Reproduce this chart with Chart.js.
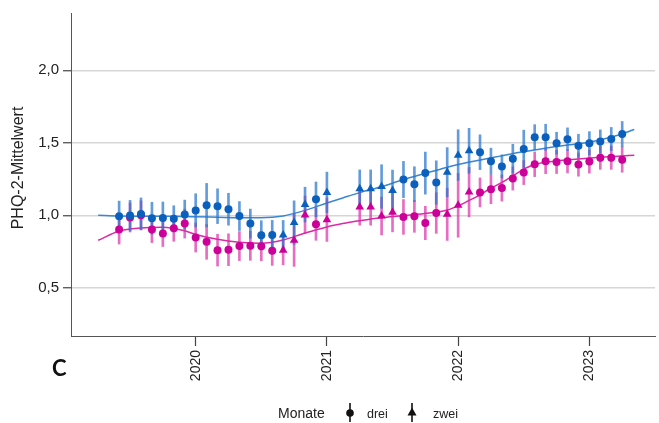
<!DOCTYPE html>
<html>
<head>
<meta charset="utf-8">
<script src="https://cdn.jsdelivr.net/npm/chart.js@4.4.1/dist/chart.umd.min.js"></script>
<style>
  html, body { margin: 0; padding: 0; background: #ffffff; }
  #wrap { width: 659px; height: 423px; }
</style>
</head>
<body>
<div id="wrap"><canvas id="c" width="659" height="423"></canvas></div>
<script>
// Monthly survey waves (Feb/Mar 2021 have no data)
const months = [
  '2019-06','2019-07','2019-08','2019-09','2019-10','2019-11','2019-12',
  '2020-01','2020-02','2020-03','2020-04','2020-05','2020-06','2020-07','2020-08','2020-09','2020-10','2020-11','2020-12',
  '2021-01','2021-04','2021-05','2021-06','2021-07','2021-08','2021-09','2021-10','2021-11','2021-12',
  '2022-01','2022-02','2022-03','2022-04','2022-05','2022-06','2022-07','2022-08','2022-09','2022-10','2022-11','2022-12',
  '2023-01','2023-02','2023-03','2023-04'
];
// Interval between waves ("Monate")
const monate = [
  'drei','drei','drei','drei','drei','drei','drei',
  'drei','drei','drei','drei','drei','drei','drei','drei','zwei','zwei','zwei','drei',
  'zwei','zwei','zwei','zwei','zwei','drei','drei','drei','drei','zwei',
  'zwei','zwei','drei','drei','drei','drei','drei','drei','drei','drei','drei','drei',
  'drei','drei','drei','drei'
];
// Blue group: mean and half-width of the confidence interval
const blueMean = [
  0.993, 0.998, 1.010, 0.980, 0.982, 0.976, 1.005,
  1.034, 1.070, 1.063, 1.042, 0.995, 0.943, 0.863, 0.865, 0.865, 0.950, 1.074, 1.110,
  1.158, 1.183, 1.183, 1.199, 1.172, 1.247, 1.215, 1.291, 1.226, 1.297,
  1.415, 1.445, 1.435, 1.373, 1.337, 1.390, 1.457, 1.538, 1.538, 1.497, 1.525, 1.479,
  1.497, 1.509, 1.526, 1.560
];
const blueHalf = [
  0.105, 0.105, 0.110, 0.110, 0.110, 0.090, 0.100,
  0.115, 0.150, 0.120, 0.110, 0.100, 0.100, 0.100, 0.100, 0.100, 0.150, 0.120, 0.120,
  0.140, 0.130, 0.130, 0.150, 0.140, 0.125, 0.120, 0.145, 0.150, 0.170,
  0.175, 0.155, 0.120, 0.090, 0.080, 0.100, 0.130, 0.087, 0.090, 0.076, 0.078, 0.080,
  0.080, 0.080, 0.080, 0.087
];
// Pink group: mean and half-width of the confidence interval
const pinkMean = [
  0.902, 0.985, 1.000, 0.902, 0.875, 0.911, 0.943,
  0.847, 0.817, 0.760, 0.763, 0.788, 0.790, 0.787, 0.755, 0.759, 0.828, 1.003, 0.938,
  0.970, 1.057, 1.057, 0.995, 1.021, 0.989, 0.993, 0.947, 1.016, 1.007,
  1.069, 1.160, 1.158, 1.180, 1.188, 1.254, 1.295, 1.352, 1.372, 1.368, 1.373, 1.350,
  1.371, 1.397, 1.397, 1.384
];
const pinkHalf = [
  0.100, 0.100, 0.100, 0.090, 0.090, 0.090, 0.100,
  0.100, 0.120, 0.110, 0.110, 0.100, 0.100, 0.100, 0.100, 0.100, 0.180, 0.130, 0.110,
  0.150, 0.125, 0.125, 0.130, 0.135, 0.120, 0.110, 0.115, 0.140, 0.180,
  0.220, 0.170, 0.100, 0.100, 0.090, 0.080, 0.083, 0.085, 0.085, 0.080, 0.080, 0.080,
  0.080, 0.080, 0.080, 0.087
];
// Smoothed trend curves (decimal year positions)
const trendYears = [
  2019.257, 2019.414, 2019.581, 2019.748, 2019.915, 2020.000, 2020.165, 2020.332, 2020.499,
  2020.666, 2020.833, 2021.000, 2021.120, 2021.243, 2021.410, 2021.577, 2021.744, 2021.911,
  2022.000, 2022.078, 2022.160, 2022.245, 2022.330, 2022.412, 2022.495, 2022.579, 2022.662,
  2022.746, 2022.912, 2023.079, 2023.216, 2023.342
];
const blueTrend = [
  1.000, 0.995, 0.993, 0.993, 0.992, 0.990, 0.987, 0.984, 0.984,
  0.996, 1.034, 1.085, 1.120, 1.155, 1.195, 1.245, 1.288, 1.330,
  1.350, 1.366, 1.380, 1.395, 1.410, 1.425, 1.438, 1.450, 1.462,
  1.474, 1.493, 1.520, 1.552, 1.592
];
const pinkTrend = [
  0.828, 0.890, 0.912, 0.917, 0.893, 0.868, 0.835, 0.815, 0.808,
  0.830, 0.878, 0.920, 0.943, 0.962, 0.984, 0.997, 1.012, 1.035,
  1.065, 1.100, 1.138, 1.185, 1.225, 1.270, 1.315, 1.350, 1.365,
  1.375, 1.388, 1.400, 1.408, 1.414
];
const yearTicks = [2020, 2021, 2022, 2023];
const valueTicks = [0.5, 1.0, 1.5, 2.0];

const BLUE = '#0b60be';
const PINK = '#cc0099';
const BLUE_BAR = 'rgba(40,118,205,0.72)';
const PINK_BAR = 'rgba(218,40,165,0.68)';
const BLUE_LINE = '#3a87d1';
const PINK_LINE = '#db2aa6';
const FONT = '"Liberation Sans", Arial, sans-serif';

function decimalYear(m) {
  const [y, mo] = m.split('-').map(Number);
  return y + (mo - 1) / 12;
}
const xs = months.map(decimalYear);

const pointStyles = monate.map(k => (k === 'zwei' ? 'triangle' : 'circle'));
const pointSizes = monate.map(k => (k === 'zwei' ? 5 : 4));

const points = (mean) => xs.map((x, i) => ({ x, y: mean[i] }));
const ranges = (mean, half) => xs.map((x, i) => ({ x, y: [mean[i] - half[i], mean[i] + half[i]] }));
const trend = (vals) => trendYears.map((x, i) => ({ x, y: vals[i] }));

// Title, panel letter and legend drawn on the canvas
const annotations = {
  id: 'annotations',
  afterDraw(chart) {
    const ctx = chart.ctx;
    ctx.save();
    ctx.fillStyle = '#222';
    // y-axis title
    ctx.save();
    ctx.translate(19, 168);
    ctx.rotate(-Math.PI / 2);
    ctx.textAlign = 'center';
    ctx.textBaseline = 'middle';
    ctx.font = '16px ' + FONT;
    ctx.fillText('PHQ-2-Mittelwert', 0, 0);
    ctx.restore();

    // panel letter
    ctx.fillStyle = '#111';
    ctx.font = 'bold 22px Lato, "Open Sans", sans-serif';
    ctx.textAlign = 'left';
    ctx.textBaseline = 'alphabetic';
    ctx.fillText('C', 52, 376);

    // legend
    ctx.fillStyle = '#222';
    ctx.font = '14px ' + FONT;
    ctx.fillText('Monate', 278, 418);
    ctx.font = '12.5px ' + FONT;
    ctx.fillText('drei', 367, 418);
    ctx.fillText('zwei', 433, 418);

    ctx.strokeStyle = '#111';
    ctx.fillStyle = '#111';
    ctx.lineWidth = 1.6;
    [350, 412].forEach(cx => {
      ctx.beginPath();
      ctx.moveTo(cx, 403);
      ctx.lineTo(cx, 422);
      ctx.stroke();
    });
    ctx.beginPath();
    ctx.arc(350, 413, 3.8, 0, Math.PI * 2);
    ctx.fill();
    ctx.beginPath();
    ctx.moveTo(412, 407.5);
    ctx.lineTo(416.5, 415.5);
    ctx.lineTo(407.5, 415.5);
    ctx.closePath();
    ctx.fill();
    ctx.restore();
  }
};

new Chart(document.getElementById('c'), {
  type: 'line',
  data: {
    datasets: [
      {
        label: 'blau',
        data: points(blueMean),
        showLine: false,
        pointStyle: pointStyles,
        pointRadius: pointSizes,
        pointBackgroundColor: BLUE,
        pointBorderColor: BLUE,
        pointBorderWidth: 0,
        order: 0
      },
      {
        label: 'pink',
        data: points(pinkMean),
        showLine: false,
        pointStyle: pointStyles,
        pointRadius: pointSizes,
        pointBackgroundColor: PINK,
        pointBorderColor: PINK,
        pointBorderWidth: 0,
        order: 1
      },
      {
        type: 'bar',
        label: 'blau KI',
        data: ranges(blueMean, blueHalf),
        backgroundColor: BLUE_BAR,
        borderWidth: 0,
        barThickness: 2,
        grouped: false,
        order: 2
      },
      {
        type: 'bar',
        label: 'pink KI',
        data: ranges(pinkMean, pinkHalf),
        backgroundColor: PINK_BAR,
        borderWidth: 0,
        barThickness: 2,
        grouped: false,
        order: 3
      },
      {
        label: 'blau Trend',
        data: trend(blueTrend),
        borderColor: BLUE_LINE,
        borderWidth: 1.5,
        pointRadius: 0,
        cubicInterpolationMode: 'monotone',
        fill: false,
        order: 4
      },
      {
        label: 'pink Trend',
        data: trend(pinkTrend),
        borderColor: PINK_LINE,
        borderWidth: 1.5,
        pointRadius: 0,
        cubicInterpolationMode: 'monotone',
        fill: false,
        order: 5
      }
    ]
  },
  options: {
    responsive: false,
    animation: false,
    layout: { padding: { left: 0, top: 12, right: 2, bottom: 0 } },
    plugins: { legend: { display: false }, tooltip: { enabled: false } },
    scales: {
      x: {
        type: 'linear',
        min: 2019.05,
        max: 2023.5,
        offset: false,
        grid: { offset: false, drawOnChartArea: false, drawTicks: true, tickLength: 10, tickColor: '#444', tickWidth: 1.2 },
        border: { display: true, color: '#555', width: 1 },
        afterBuildTicks: s => { s.ticks = yearTicks.map(v => ({ value: v })); },
        afterFit: s => { s.height = 87; },
        ticks: {
          autoSkip: false,
          minRotation: 90,
          maxRotation: 90,
          padding: 4,
          color: '#222',
          font: { size: 14, family: FONT },
          callback: v => String(v)
        }
      },
      y: {
        type: 'linear',
        min: 0.168,
        max: 2.395,
        grid: { color: '#d6d6d6', lineWidth: 1.5, tickColor: '#444', tickLength: 8, tickWidth: 1.2 },
        border: { display: true, color: '#555', width: 1 },
        afterBuildTicks: s => { s.ticks = valueTicks.map(v => ({ value: v })); },
        afterFit: s => { s.width = 71; },
        ticks: {
          padding: 4,
          color: '#222',
          font: { size: 15, family: FONT },
          callback: v => v.toFixed(1).replace('.', ',')
        }
      }
    }
  },
  plugins: [annotations]
});
</script>
</body>
</html>
